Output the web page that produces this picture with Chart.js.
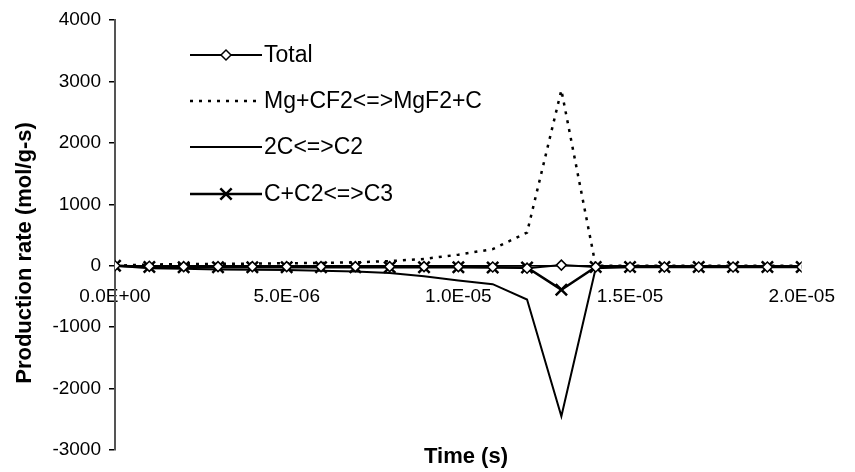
<!DOCTYPE html>
<html>
<head>
<meta charset="utf-8">
<script src="https://cdn.jsdelivr.net/npm/chart.js@4/dist/chart.umd.min.js"></script>
<style>
  html, body { margin: 0; padding: 0; background: #fff; }
  #wrap { width: 855px; height: 472px; }
</style>
</head>
<body>
<div id="wrap"><canvas id="chart"></canvas></div>
<script>
// --- DATA (time in s, rates in mol/g-s) ---
const times = [0, 1e-6, 2e-6, 3e-6, 4e-6, 5e-6, 6e-6, 7e-6, 8e-6, 9e-6, 10e-6,
               11e-6, 12e-6, 13e-6, 14e-6, 15e-6, 16e-6, 17e-6, 18e-6, 19e-6, 20e-6];
const totalRate = [0, -10, -15, -15, -15, -15, -15, -15, -15, -15, -15,
                   -20, -40, 10, -20, -20, -20, -20, -20, -20, -20];
const mgcf2Rate = [0, 20, 25, 30, 35, 40, 45, 55, 75, 110, 180,
                   270, 540, 2860, 0, 0, 0, 0, 0, 0, 0];
const c2Rate    = [0, -40, -50, -60, -65, -70, -80, -95, -120, -170, -240,
                   -300, -550, -2450, -40, -20, -20, -20, -20, -20, -20];
const c3Rate    = [0, -20, -25, -25, -25, -25, -25, -25, -25, -25, -25,
                   -30, -30, -390, -20, -20, -20, -20, -20, -20, -20];
const seriesNames = ['Total', 'Mg+CF2<=>MgF2+C', '2C<=>C2', 'C+C2<=>C3'];
const yTicks = [-3000, -2000, -1000, 0, 1000, 2000, 3000, 4000];
const xTicks = [0, 5e-6, 1e-5, 1.5e-5, 2e-5];

const FONT = "'Liberation Sans', Arial, sans-serif";

function pts(vals) { return vals.map((v, i) => ({ x: times[i], y: v })); }

function sci(v) {
    // 5e-6 -> "5.0E-06"
    const [m, e] = Number(v).toExponential(1).split('e');
    const n = parseInt(e, 10);
    return m + 'E' + (n < 0 ? '-' : '+') + String(Math.abs(n)).padStart(2, '0');
}

// legend drawn inside plot, Excel style (line + marker)
const legendBox = {
    id: 'legendBox',
    afterDraw(chart) {
        const ctx = chart.ctx;
        const x0 = 190, x1 = 262, rows = [55, 101, 147, 194];
        ctx.save();
        ctx.font = '23px ' + FONT;
        ctx.textBaseline = 'middle';
        chart.data.datasets.forEach((ds, i) => {
            const y = rows[i];
            ctx.save();
            ctx.strokeStyle = ds.borderColor;
            ctx.lineWidth = ds.borderWidth;
            ctx.setLineDash(ds.borderDash || []);
            ctx.beginPath(); ctx.moveTo(x0, y); ctx.lineTo(x1, y); ctx.stroke();
            ctx.setLineDash([]);
            if (ds.pointRadius > 0) {
                ctx.fillStyle = ds.pointBackgroundColor || '#fff';
                ctx.strokeStyle = '#000';
                ctx.lineWidth = ds.pointBorderWidth;
                Chart.helpers.drawPoint(ctx, {
                    pointStyle: ds.pointStyle, radius: ds.pointRadius,
                    borderWidth: ds.pointBorderWidth, rotation: 0
                }, (x0 + x1) / 2, y);
            }
            ctx.restore();
            ctx.fillStyle = '#000';
            ctx.fillText(ds.label, x1 + 2, y + 1);
        });
        ctx.restore();
    }
};

// axis titles placed like the original
const axisTitles = {
    id: 'axisTitles',
    afterDraw(chart) {
        const ctx = chart.ctx;
        ctx.save();
        ctx.fillStyle = '#000';
        ctx.font = 'bold 22px ' + FONT;
        ctx.textAlign = 'center';
        ctx.textBaseline = 'middle';
        ctx.fillText('Time (s)', 466, 457);
        ctx.translate(25, 253);
        ctx.rotate(-Math.PI / 2);
        ctx.fillText('Production rate (mol/g-s)', 0, 0);
        ctx.restore();
    }
};

const ctx = document.getElementById('chart').getContext('2d');
const chart = new Chart(ctx, {
    type: 'line',
    data: {
        datasets: [
            { label: seriesNames[0], data: pts(totalRate), borderColor: '#000', borderWidth: 2,
              pointStyle: 'rectRot', pointRadius: 5, pointBorderWidth: 1.5,
              pointBackgroundColor: '#fff', pointBorderColor: '#000' },
            { label: seriesNames[1], data: pts(mgcf2Rate), borderColor: '#000', borderWidth: 2.5,
              borderDash: [3, 6], pointRadius: 0 },
            { label: seriesNames[2], data: pts(c2Rate), borderColor: '#000', borderWidth: 2,
              pointRadius: 0 },
            { label: seriesNames[3], data: pts(c3Rate), borderColor: '#000', borderWidth: 2.5,
              pointStyle: 'crossRot', pointRadius: 8, pointBorderWidth: 2.5,
              pointBackgroundColor: '#000', pointBorderColor: '#000' },
        ],
    },
    options: {
        responsive: true,
        maintainAspectRatio: false,
        animation: false,
        layout: { padding: { left: 0, right: 38, top: 20, bottom: 22 } },
        plugins: { legend: { display: false }, tooltip: { enabled: false } },
        scales: {
            x: {
                type: 'linear',
                position: { y: 0 },
                min: 0, max: 2e-5,
                afterBuildTicks: s => { s.ticks = xTicks.map(v => ({ value: v })); },
                ticks: { callback: v => sci(v), color: '#000', font: { family: FONT, size: 19 },
                         padding: 20, maxRotation: 0 },
                grid: { display: false, drawTicks: false },
                border: { display: true, color: '#000', width: 1.5 },
            },
            y: {
                min: -3000, max: 4000,
                afterBuildTicks: s => { s.ticks = yTicks.map(v => ({ value: v })); },
                afterFit: s => { s.width = 115; },
                ticks: { callback: v => String(v), color: '#000',
                         font: { family: FONT, size: 19 }, padding: 8 },
                grid: { drawOnChartArea: false, tickLength: 6, color: '#000', lineWidth: 1.5 },
                border: { display: true, color: '#555', width: 2 },
            },
        },
    },
    plugins: [legendBox, axisTitles],
});
</script>
</body>
</html>
